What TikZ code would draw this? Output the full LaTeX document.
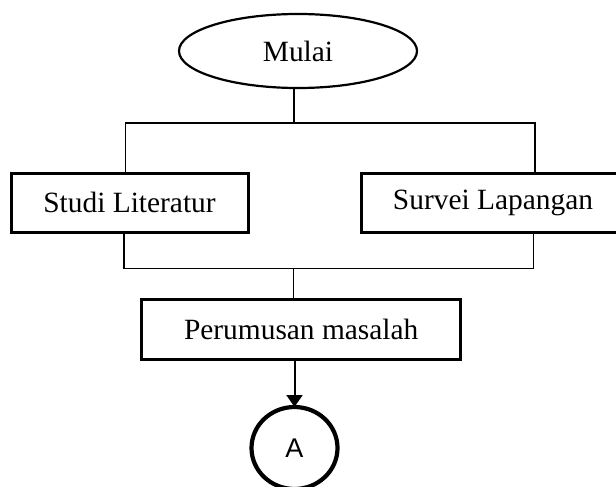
\documentclass[tikz,border=0pt]{standalone}
\usepackage{fontspec}
\setmainfont{Liberation Serif}
\newfontfamily\arialfont{Liberation Sans}
\usetikzlibrary{shapes.geometric,arrows.meta}
\begin{document}
\begin{tikzpicture}[x=0.5pt,y=-0.5pt,
  conn/.style={line width=0.7pt},
  procbox/.style={draw,rectangle,line width=1.5pt,inner sep=0pt,outer sep=0pt,font=\fontsize{14.7pt}{17pt}\selectfont},
  startshape/.style={draw,ellipse,line width=1.1pt,inner sep=0pt,outer sep=0pt,minimum width=119pt,minimum height=37pt,font=\fontsize{14.7pt}{17pt}\selectfont},
  connshape/.style={draw,ellipse,line width=2.1pt,inner sep=0pt,outer sep=0pt,minimum width=43pt,minimum height=41pt,font=\arialfont\fontsize{13.5pt}{16pt}\selectfont}]
\useasboundingbox (0,0) rectangle (616,487);
\node[startshape] (mulai) at (298,51) {Mulai};
\node[procbox,minimum width=118.5pt,minimum height=29.5pt] (lit) at (129.5,202.5) {Studi Literatur};
\node[procbox,minimum width=132pt,minimum height=29.5pt] (sur) at (493,202.8) {Survei Lapangan};
\node[procbox,minimum width=159.5pt,minimum height=30pt] (per) at (301.2,329.3) {Perumusan masalah};
\node[connshape] (a) at (294.5,448) {A};
\coordinate (t) at (294,123);
\coordinate (tl) at (125.7,123);
\coordinate (tr) at (535,123);
\coordinate (bl) at (124,268.5);
\coordinate (br) at (533.5,268.5);
\coordinate (m) at (293.5,268.5);
\draw[conn] (mulai.south -| t) -- (t);
\draw[conn] (lit.north -| tl) -- (tl) -- (tr) -- (sur.north -| tr);
\draw[conn] (lit.south -| bl) -- (bl) -- (br) -- (sur.south -| br);
\draw[conn] (m) -- (m |- per.north);
\draw[line width=1pt,-{Triangle[width=8pt,length=6pt]}] (per.south -| a) -- (a.north);
\end{tikzpicture}
\end{document}
